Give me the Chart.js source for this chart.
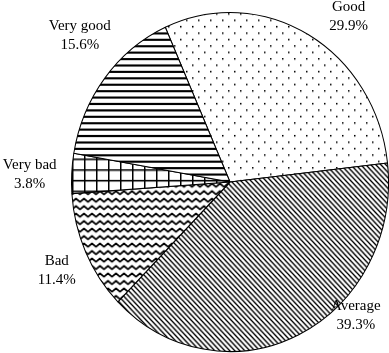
<!DOCTYPE html>
<html>
<head>
<meta charset="utf-8">
<script src="https://cdn.jsdelivr.net/npm/chart.js@4.4.1/dist/chart.umd.min.js"></script>
<style>
  html, body { margin: 0; padding: 0; background: #fff; }
  #wrap { width: 389px; height: 353px; position: relative; }
</style>
</head>
<body>
<div id="wrap"><canvas id="c" width="389" height="353"></canvas></div>
<script>
// ---- data ----
const categories = ['Good', 'Average', 'Bad', 'Very bad', 'Very good'];
const shares = [29.9, 39.3, 11.4, 3.8, 15.6];
const valueLabels = ['29.9%', '39.3%', '11.4%', '3.8%', '15.6%'];

// ---- layout / style ----
const Y_STRETCH = 170 / 159;           // reference pie is slightly taller than wide
const labelOffsets = [[40, -18], [57, -19], [-29, 18], [-42, 1], [-25, -43]];
const FONT = '15px "Liberation Serif", "Times New Roman", serif';

function tile(w, h, draw) {
  const c = document.createElement('canvas');
  c.width = w; c.height = h;
  const g = c.getContext('2d');
  g.fillStyle = '#fff'; g.fillRect(0, 0, w, h);
  g.fillStyle = '#000'; g.strokeStyle = '#000';
  draw(g, w, h);
  return document.createElement('canvas').getContext('2d').createPattern(c, 'repeat');
}
const patDots = tile(12, 12, g => {
  g.fillRect(0, 0, 1.5, 1.5);
  g.fillRect(6, 6, 1.5, 1.5);
});
const patDiag = tile(5, 5, g => {
  g.lineWidth = 1.3;
  g.beginPath();
  g.moveTo(-1, -1); g.lineTo(6, 6);
  g.moveTo(-6, -1); g.lineTo(1, 6);
  g.moveTo(4, -1); g.lineTo(11, 6);
  g.stroke();
});
const patWave = tile(8, 7, g => {
  g.lineWidth = 1.6; g.lineJoin = 'round'; g.lineCap = 'round';
  g.beginPath();
  g.moveTo(-4, 1.5); g.lineTo(0, 4.5); g.lineTo(4, 1.5); g.lineTo(8, 4.5); g.lineTo(12, 1.5);
  g.stroke();
});
const patGrid = tile(12, 10, g => {
  g.fillRect(0, 0, 1.5, 10);
  g.fillRect(0, 0, 12, 1.5);
});
const patHoriz = tile(8, 6, g => {
  g.fillRect(0, 0, 8, 2);
});
const fills = [patDots, patDiag, patWave, patGrid, patHoriz];

const stretchPlugin = {
  id: 'stretch',
  beforeDatasetsDraw(chart) {
    const a = chart.getDatasetMeta(0).data[0];
    const ctx = chart.ctx;
    ctx.save();
    ctx.translate(a.x, a.y);
    ctx.scale(1, Y_STRETCH);
    ctx.translate(-a.x, -a.y);
  },
  afterDatasetsDraw(chart) {
    chart.ctx.restore();
  }
};

const labelPlugin = {
  id: 'sliceLabels',
  afterDraw(chart) {
    const ctx = chart.ctx;
    const meta = chart.getDatasetMeta(0);
    ctx.save();
    ctx.font = FONT;
    ctx.fillStyle = '#000';
    ctx.textAlign = 'center';
    ctx.textBaseline = 'middle';
    meta.data.forEach((arc, i) => {
      const mid = (arc.startAngle + arc.endAngle) / 2;
      const ax = arc.x + arc.outerRadius * Math.cos(mid);
      const ay = arc.y + arc.outerRadius * Y_STRETCH * Math.sin(mid);
      const x = ax + labelOffsets[i][0];
      const y = ay + labelOffsets[i][1];
      ctx.fillText(categories[i], x, y - 9.5);
      ctx.fillText(valueLabels[i], x, y + 9.5);
    });
    ctx.restore();
  }
};

new Chart(document.getElementById('c'), {
  type: 'pie',
  data: {
    labels: categories,
    datasets: [{
      data: shares,
      backgroundColor: fills,
      borderColor: '#000',
      borderWidth: 1,
      borderAlign: 'center'
    }]
  },
  options: {
    responsive: false,
    animation: false,
    rotation: -24.1,
    layout: { padding: { left: 71, right: 0, top: 23, bottom: 12 } },
    plugins: { legend: { display: false }, tooltip: { enabled: false } },
    events: []
  },
  plugins: [stretchPlugin, labelPlugin]
});
</script>
</body>
</html>
